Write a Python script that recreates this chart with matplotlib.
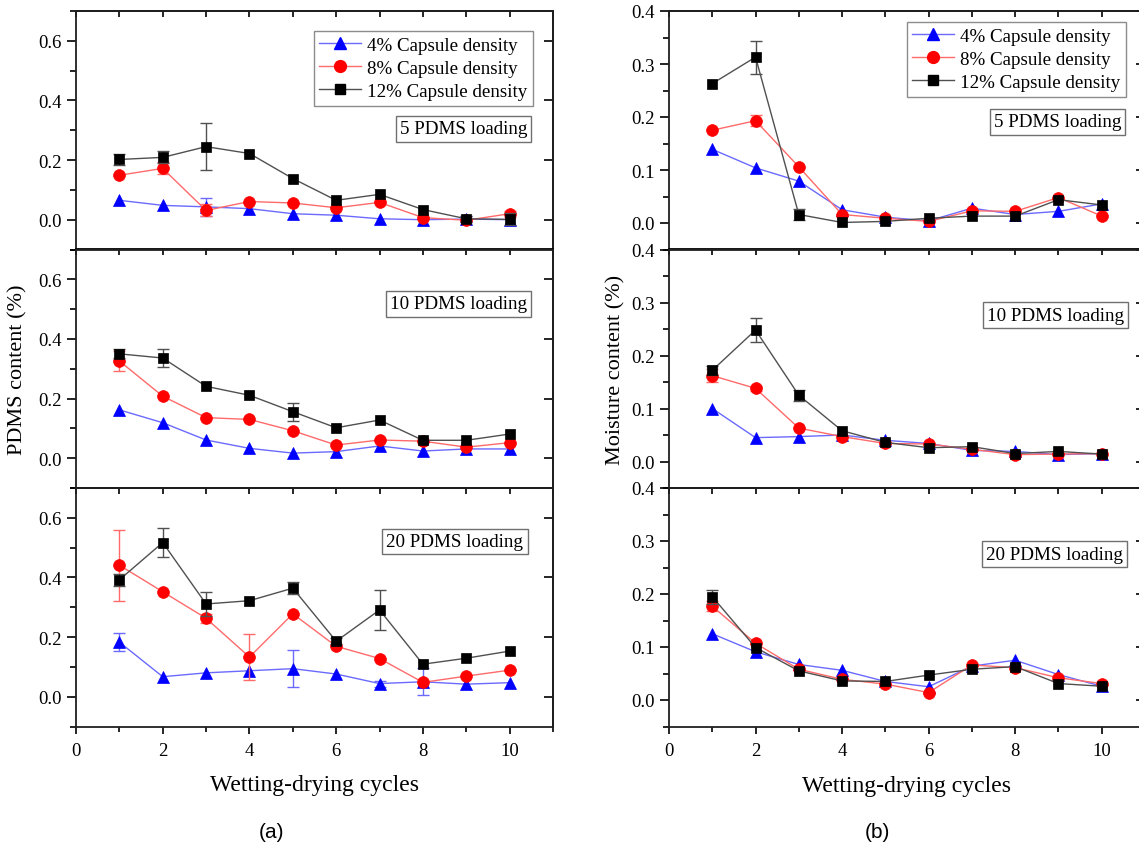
import numpy as np
import matplotlib.pyplot as plt
from matplotlib.ticker import MultipleLocator, FormatStrFormatter
from matplotlib.lines import Line2D

plt.rcParams['font.family'] = ['Liberation Serif', 'DejaVu Serif']

cycles = np.arange(1, 11)
density_labels = ['4% Capsule density', '8% Capsule density', '12% Capsule density']
loading_labels = ['5 PDMS loading', '10 PDMS loading', '20 PDMS loading']

# PDMS content (%) -- 5 PDMS loading
pdms5_c4 = [0.065, 0.048, 0.043, 0.037, 0.020, 0.015, 0.003, 0.000, 0.002, 0.000]
pdms5_c4_err = [0, 0, 0.03, 0, 0, 0, 0, 0, 0.01, 0]
pdms5_c8 = [0.149, 0.172, 0.031, 0.061, 0.056, 0.040, 0.058, 0.007, -0.002, 0.020]
pdms5_c8_err = [0, 0.02, 0.02, 0, 0, 0, 0, 0, 0, 0.01]
pdms5_c12 = [0.202, 0.209, 0.245, 0.222, 0.138, 0.065, 0.085, 0.034, 0.003, 0.001]
pdms5_c12_err = [0.02, 0.02, 0.078, 0, 0, 0, 0, 0, 0.01, 0.02]

# PDMS content (%) -- 10 PDMS loading
pdms10_c4 = [0.162, 0.119, 0.061, 0.033, 0.017, 0.022, 0.041, 0.024, 0.031, 0.031]
pdms10_c4_err = [0, 0, 0, 0, 0, 0, 0, 0, 0, 0]
pdms10_c8 = [0.326, 0.208, 0.136, 0.130, 0.092, 0.044, 0.061, 0.057, 0.037, 0.052]
pdms10_c8_err = [0.035, 0, 0, 0, 0, 0, 0, 0, 0, 0]
pdms10_c12 = [0.350, 0.336, 0.241, 0.211, 0.156, 0.102, 0.128, 0.060, 0.060, 0.081]
pdms10_c12_err = [0.015, 0.03, 0, 0, 0.03, 0, 0, 0, 0, 0]

# PDMS content (%) -- 20 PDMS loading
pdms20_c4 = [0.183, 0.067, 0.080, 0.087, 0.094, 0.076, 0.044, 0.050, 0.042, 0.047]
pdms20_c4_err = [0.031, 0, 0, 0, 0.063, 0, 0.01, 0.045, 0, 0]
pdms20_c8 = [0.441, 0.352, 0.263, 0.133, 0.278, 0.169, 0.128, 0.048, 0.069, 0.089]
pdms20_c8_err = [0.119, 0, 0.015, 0.077, 0, 0, 0, 0, 0, 0]
pdms20_c12 = [0.392, 0.517, 0.311, 0.322, 0.364, 0.186, 0.291, 0.109, 0.129, 0.153]
pdms20_c12_err = [0.02, 0.05, 0.04, 0, 0.02, 0.01, 0.067, 0, 0, 0]

# Moisture content (%) -- 5 PDMS loading
moist5_c4 = [0.139, 0.104, 0.079, 0.025, 0.011, 0.004, 0.028, 0.016, 0.022, 0.036]
moist5_c4_err = [0, 0, 0, 0, 0, 0, 0, 0, 0, 0]
moist5_c8 = [0.175, 0.193, 0.106, 0.016, 0.009, 0.003, 0.023, 0.022, 0.048, 0.013]
moist5_c8_err = [0, 0.01, 0, 0, 0, 0, 0, 0, 0, 0]
moist5_c12 = [0.263, 0.313, 0.016, 0.001, 0.003, 0.009, 0.013, 0.013, 0.044, 0.034]
moist5_c12_err = [0, 0.031, 0.01, 0, 0, 0, 0, 0, 0, 0]

# Moisture content (%) -- 10 PDMS loading
moist10_c4 = [0.100, 0.045, 0.047, 0.050, 0.040, 0.034, 0.021, 0.019, 0.013, 0.015]
moist10_c4_err = [0, 0, 0, 0, 0, 0, 0, 0, 0, 0]
moist10_c8 = [0.162, 0.138, 0.063, 0.047, 0.034, 0.033, 0.023, 0.013, 0.014, 0.015]
moist10_c8_err = [0.012, 0.005, 0, 0, 0, 0, 0, 0, 0, 0]
moist10_c12 = [0.172, 0.248, 0.125, 0.058, 0.036, 0.026, 0.028, 0.015, 0.019, 0.014]
moist10_c12_err = [0.008, 0.023, 0.01, 0, 0, 0, 0, 0, 0, 0]

# Moisture content (%) -- 20 PDMS loading
moist20_c4 = [0.125, 0.091, 0.067, 0.056, 0.035, 0.025, 0.064, 0.075, 0.048, 0.026]
moist20_c4_err = [0, 0, 0, 0, 0, 0, 0, 0, 0, 0]
moist20_c8 = [0.177, 0.107, 0.058, 0.039, 0.030, 0.014, 0.066, 0.061, 0.042, 0.031]
moist20_c8_err = [0.01, 0, 0, 0, 0, 0, 0, 0, 0, 0]
moist20_c12 = [0.195, 0.099, 0.055, 0.036, 0.035, 0.047, 0.058, 0.063, 0.031, 0.026]
moist20_c12_err = [0.013, 0, 0, 0, 0, 0, 0, 0, 0, 0]

pdms_panels = [
    [(pdms5_c4, pdms5_c4_err), (pdms5_c8, pdms5_c8_err), (pdms5_c12, pdms5_c12_err)],
    [(pdms10_c4, pdms10_c4_err), (pdms10_c8, pdms10_c8_err), (pdms10_c12, pdms10_c12_err)],
    [(pdms20_c4, pdms20_c4_err), (pdms20_c8, pdms20_c8_err), (pdms20_c12, pdms20_c12_err)],
]
moist_panels = [
    [(moist5_c4, moist5_c4_err), (moist5_c8, moist5_c8_err), (moist5_c12, moist5_c12_err)],
    [(moist10_c4, moist10_c4_err), (moist10_c8, moist10_c8_err), (moist10_c12, moist10_c12_err)],
    [(moist20_c4, moist20_c4_err), (moist20_c8, moist20_c8_err), (moist20_c12, moist20_c12_err)],
]

# marker, marker colour, line colour, marker size
styles = [
    ('^', '#0000ff', '#6a6aff', 9.0),
    ('o', '#ff0000', '#ff6a6a', 8.5),
    ('s', '#000000', '#505050', 7.0),
]

W, H = 1139, 853
fig = plt.figure(figsize=(W / 100, H / 100), dpi=100)


def place(left, top, right, bottom):
    return [left / W, 1 - bottom / H, (right - left) / W, (bottom - top) / H]


tick_fs = 13.5
text_fs = 13.7
spine_lw = 1.3
edges = [12, 250.5, 489, 727.5]


def draw_column(panels, x0, x1, ylim, major, minor, fmt, legend_pos, box_pos):
    axes = []
    for i, panel in enumerate(panels):
        ax = fig.add_axes(place(x0, edges[i], x1, edges[i + 1]))
        for (vals, err), (mk, mc, lc, ms) in zip(panel, styles):
            vals = np.asarray(vals)
            err = np.asarray(err)
            m = err > 0
            if m.any():
                ax.errorbar(cycles[m], vals[m], yerr=err[m], fmt='none',
                            ecolor=lc, elinewidth=1.0, capsize=4, capthick=1.0)
            ax.plot(cycles, vals, color=lc, lw=1.0, marker=mk, ms=ms,
                    mfc=mc, mec=mc, mew=0.5)
        ax.set_xlim(0, 11)
        ax.set_ylim(*ylim)
        ax.xaxis.set_major_locator(MultipleLocator(2))
        ax.xaxis.set_minor_locator(MultipleLocator(1))
        ax.yaxis.set_major_locator(MultipleLocator(major))
        ax.yaxis.set_minor_locator(MultipleLocator(minor))
        ax.yaxis.set_major_formatter(FormatStrFormatter(fmt))
        last = i == len(panels) - 1
        ax.tick_params(axis='x', which='both', direction='out', top=False,
                       bottom=last, labelbottom=last, labelsize=tick_fs, pad=6)
        ax.tick_params(axis='x', which='major', length=5, width=1.2)
        ax.tick_params(axis='x', which='minor', length=3.5, width=1.2)
        ax.tick_params(axis='y', which='both', direction='out', right=False,
                       labelsize=tick_fs, pad=4)
        ax.tick_params(axis='y', which='major', length=6.5, width=1.2)
        ax.tick_params(axis='y', which='minor', length=4, width=1.2)
        for sp in ax.spines.values():
            sp.set_linewidth(spine_lw)
            sp.set_color('#202020')

        # inward ticks on the top and right frame edges
        top = ax.secondary_xaxis('top')
        top.xaxis.set_major_locator(MultipleLocator(1))
        top.tick_params(direction='in', length=4, width=1.2, labeltop=False)
        top.spines['top'].set_linewidth(spine_lw)
        right = ax.secondary_yaxis('right')
        right.yaxis.set_major_locator(MultipleLocator(major))
        right.tick_params(direction='in', length=6.5, width=1.2, labelright=False)
        right.spines['right'].set_linewidth(spine_lw)

        bx, by = box_pos[i]
        ax.text(bx, by, loading_labels[i], transform=ax.transAxes, ha='right',
                va='center', fontsize=text_fs,
                bbox=dict(boxstyle='square,pad=0.22', fc='white', ec='#707070', lw=1.0))
        axes.append(ax)

    handles = [Line2D([], [], color=lc, lw=1.0, marker=mk, ms=ms, mfc=mc, mec=mc)
               for mk, mc, lc, ms in styles]
    leg = axes[0].legend(handles, density_labels, loc='upper right',
                         bbox_to_anchor=legend_pos, borderaxespad=0,
                         fontsize=text_fs, frameon=True, fancybox=False,
                         edgecolor='#707070', handlelength=2.2, handletextpad=0.3,
                         labelspacing=0.3, borderpad=0.3)
    leg.get_frame().set_linewidth(1.0)
    return axes


left_axes = draw_column(pdms_panels, 76, 553, (-0.1, 0.7), 0.2, 0.1, '%.1f',
                        (0.958, 0.916),
                        [(0.946, 0.506), (0.946, 0.772), (0.938, 0.776)])
right_axes = draw_column(moist_panels, 669, 1145, (-0.05, 0.4), 0.1, 0.05, '%.1f',
                         (0.960, 0.954),
                         [(0.950, 0.535), (0.956, 0.725), (0.954, 0.723)])

fig.text(18 / W, 1 - 370 / H, 'PDMS content (%)', rotation=90, ha='center',
         va='center', fontsize=16)
fig.text(616 / W, 1 - 370 / H, 'Moisture content (%)', rotation=90, ha='center',
         va='center', fontsize=16)
fig.text(315 / W, 1 - 786 / H, 'Wetting-drying cycles', ha='center', va='center',
         fontsize=17)
fig.text(907 / W, 1 - 787 / H, 'Wetting-drying cycles', ha='center', va='center',
         fontsize=17)
fig.text(272 / W, 1 - 833 / H, '(a)', ha='center', va='center', fontsize=15,
         family=['Liberation Sans', 'DejaVu Sans'])
fig.text(877 / W, 1 - 833 / H, '(b)', ha='center', va='center', fontsize=15,
         family=['Liberation Sans', 'DejaVu Sans'])

fig.savefig('out.png', dpi=100)
